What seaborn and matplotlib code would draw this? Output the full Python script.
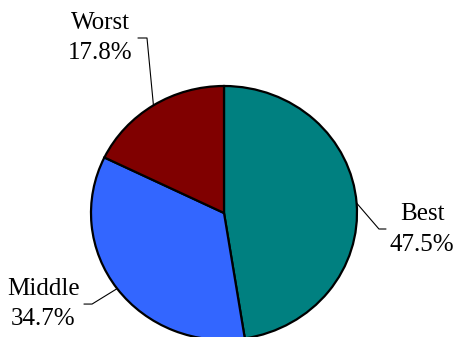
import matplotlib
matplotlib.use("Agg")
import matplotlib.pyplot as plt
import seaborn as sns
import numpy as np

# Share of outcomes per group
categories = ["Best", "Middle", "Worst"]
shares = [47.5, 34.7, 17.8]
colors = ["#008080", "#3366FF", "#800000"]

# Where each label sits (axes data units) and where its leader line bends
label_pos = {"Best": (1.49, -0.13), "Middle": (-1.36, -0.717), "Worst": (-0.93, 1.378)}
elbow_pos = {"Best": (1.165, -0.126), "Middle": (-0.992, -0.717), "Worst": (-0.579, 1.378)}
tail_pos = {"Best": (1.218, -0.126), "Middle": (-1.053, -0.717), "Worst": (-0.647, 1.378)}

sns.set_theme(style="white")
plt.rcParams["font.family"] = ["Liberation Serif", "DejaVu Serif"]

fig = plt.figure(figsize=(4.54, 3.37), dpi=100)
W, H = 454, 337
ax = fig.add_axes([91 / W, -3 / H, 266 / W, 254 / H])

wedges, _ = ax.pie(
    shares,
    colors=colors,
    startangle=90,
    counterclock=False,
    wedgeprops=dict(edgecolor="black", linewidth=1.6),
)
ax.set_aspect("auto")
ax.set_xlim(-1, 1)
ax.set_ylim(-1, 1)
ax.axis("off")

for w, name, val in zip(wedges, categories, shares):
    mid = np.deg2rad((w.theta1 + w.theta2) / 2)
    start = (np.cos(mid), np.sin(mid))
    ex, ey = elbow_pos[name]
    tx, ty = tail_pos[name]
    ax.plot([start[0], ex, tx], [start[1], ey, ty], color="black",
            linewidth=0.8, clip_on=False)
    lx, ly = label_pos[name]
    ax.text(lx, ly, f"{name}\n{val:.1f}%", ha="center", va="center",
            fontsize=18, color="black", linespacing=1.5, clip_on=False)

fig.savefig("out.png", dpi=100)
